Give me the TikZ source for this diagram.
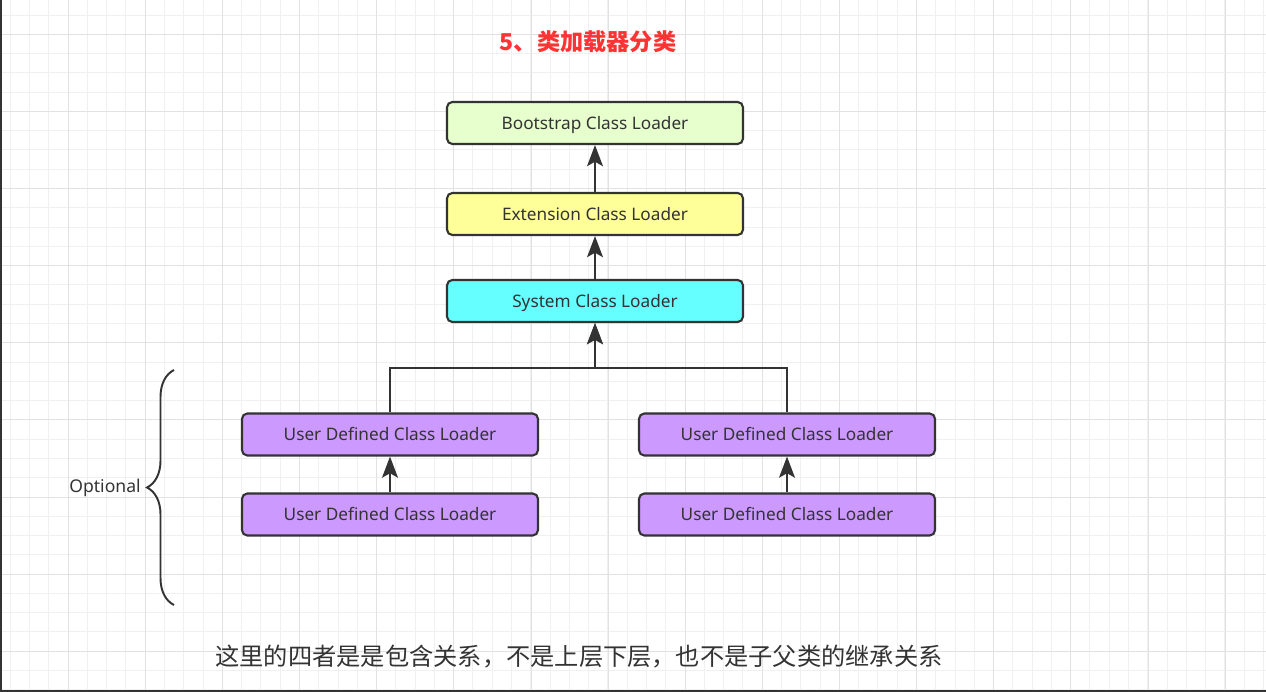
\documentclass[tikz,border=0pt]{standalone}
\usepackage{fontspec}
\setmainfont{Noto Sans}
\newfontfamily\cjk{Noto Sans CJK SC}
\usepackage{tikz}
\usetikzlibrary{arrows.meta, positioning, calc, decorations.pathreplacing}
\definecolor{bootstrap}{RGB}{230,255,204}
\definecolor{extension}{RGB}{255,255,153}
\definecolor{system}{RGB}{102,255,255}
\definecolor{userdef}{RGB}{204,153,255}
\definecolor{borde}{RGB}{51,51,51}
\definecolor{rojotitulo}{RGB}{255,51,51}
\definecolor{rejilla}{RGB}{240,240,240}
\definecolor{rejillafuerte}{RGB}{226,226,226}

\begin{document}
\begin{tikzpicture}[
    x=0.02cm,
    y=-0.02cm,
    loader/.style={draw=borde, line width=1.2pt, rounded corners=3pt, minimum width=5.92cm, minimum height=0.84cm, inner sep=0pt, text height=7pt, text depth=0pt, text=borde, font=\fontsize{9.8}{12}\selectfont},
    conn/.style={-{Stealth[length=12pt, width=9pt, inset=2.5pt]}, line width=1.3pt, draw=borde}
]

\useasboundingbox (0,0) rectangle (1266,692);

% Rejilla de fondo
\foreach \i in {0,...,65} \draw[rejilla, line width=0.55pt] ({10.25+19.28*\i},0) -- ({10.25+19.28*\i},692);
\foreach \i in {0,...,35} \draw[rejilla, line width=0.55pt] (0,{15+19.28*\i}) -- (1266,{15+19.28*\i});
\foreach \i in {0,...,15} \draw[rejillafuerte, line width=0.55pt] ({68.3+77.12*\i},0) -- ({68.3+77.12*\i},692);
\foreach \i in {0,...,8} \draw[rejillafuerte, line width=0.55pt] (0,{34.3+77.12*\i}) -- (1266,{34.3+77.12*\i});

% Marco
\draw[borde, line width=1.2pt] (1,0) -- (1,691) -- (1266,691);

% Titulo
\node[text=rojotitulo, font=\cjk\bfseries\fontsize{13.2}{16}\selectfont] (titulo) at (588,42) {5、类加载器分类};

% Cargadores
\node[loader, fill=bootstrap] (boot) at (595,123) {Bootstrap Class Loader};
\node[loader, fill=extension] (ext) at (595,214) {Extension Class Loader};
\node[loader, fill=system] (sys) at (595,301) {System Class Loader};
\node[loader, fill=userdef] (udA) at (390,434.5) {User Defined Class Loader};
\node[loader, fill=userdef] (udB) at (390,514.5) {User Defined Class Loader};
\node[loader, fill=userdef] (udC) at (787,434.5) {User Defined Class Loader};
\node[loader, fill=userdef] (udD) at (787,514.5) {User Defined Class Loader};

% Delegacion
\draw[conn] (ext) -- (boot);
\draw[conn] (sys) -- (ext);
\coordinate (union) at (595,368);
\draw[conn] (udA.north) |- (union) -- (sys.south);
\draw[conn] (udC.north) |- (union) -- (sys.south);
\draw[conn] (udB) -- (udA);
\draw[conn] (udD) -- (udC);

% Llave opcional
\draw[borde, line width=1.1pt, decorate, decoration={brace, amplitude=0.54cm}] (174,605) -- (174,370);
\node[text=borde, font=\fontsize{10}{12}\selectfont] (opcional) at (105,488) {Optional};

% Nota
\node[text=borde, font=\cjk\fontsize{13.8}{16}\selectfont] (nota) at (579,657) {这里的四者是是包含关系，不是上层下层，也不是子父类的继承关系};

\end{tikzpicture}
\end{document}
